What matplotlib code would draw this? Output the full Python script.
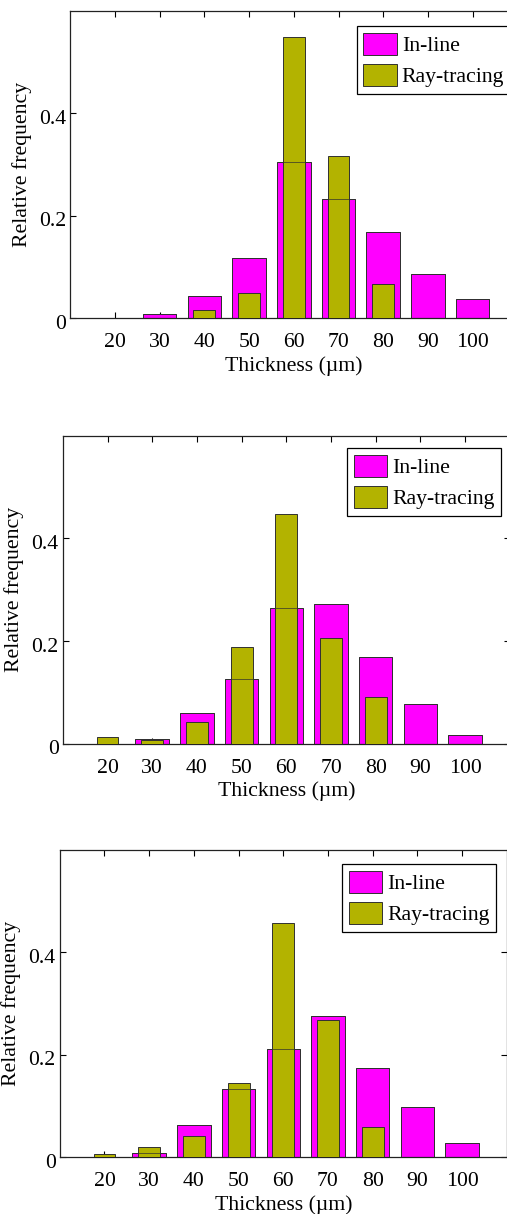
#!/usr/bin/env python3
"""Relative frequency of thickness: in-line vs ray-tracing, three panels."""

import matplotlib
matplotlib.use("Agg")
import matplotlib.pyplot as plt
from matplotlib.transforms import ScaledTranslation

plt.rcParams["font.family"] = ["Liberation Serif", "DejaVu Serif"]
plt.rcParams["font.size"] = 15.7

thickness = [20, 30, 40, 50, 60, 70, 80, 90, 100]

inline_1 = [0, 0.008, 0.044, 0.117, 0.305, 0.233, 0.168, 0.087, 0.037]
ray_1 = [0, 0, 0.016, 0.050, 0.549, 0.316, 0.066, 0, 0]

inline_2 = [0, 0.009, 0.060, 0.127, 0.264, 0.273, 0.169, 0.077, 0.018]
ray_2 = [0.013, 0.008, 0.042, 0.188, 0.447, 0.206, 0.091, 0, 0]

inline_3 = [0, 0.009, 0.064, 0.134, 0.211, 0.276, 0.174, 0.099, 0.027]
ray_3 = [0.006, 0.020, 0.042, 0.145, 0.457, 0.268, 0.060, 0, 0]

series_labels = ["In-line", "Ray-tracing"]

INLINE_COLOR = "#ff00ff"
RAY_COLOR = "#b3b300"
EDGE = "#303030"

W, H = 507, 1214
# (left, top, bottom) in pixels, plus legend anchor in axes fraction
panels = [
    (inline_1, ray_1, 70.3, 10.7, 318.3, (0.641, 0.950)),
    (inline_2, ray_2, 62.8, 435.7, 744.0, (0.636, 0.959)),
    (inline_3, ray_3, 59.8, 850.0, 1157.3, (0.632, 0.954)),
]
AX_W = 447

fig = plt.figure(figsize=(W / 100, H / 100), dpi=100)
shift_down = ScaledTranslation(0, -3.5 / 100, fig.dpi_scale_trans)

for inline, ray, left, top, bottom, anchor in panels:
    ax = fig.add_axes([left / W, 1 - bottom / H, AX_W / W, (bottom - top) / H])
    b1 = ax.bar(thickness, inline, width=7.5, color=INLINE_COLOR,
                edgecolor=EDGE, linewidth=0.7, zorder=2)
    b2 = ax.bar(thickness, ray, width=4.9, color=RAY_COLOR,
                edgecolor=EDGE, linewidth=0.7, zorder=3)
    # in-line outlines show through the ray-tracing bars
    ax.bar(thickness, inline, width=7.5, fill=False,
           edgecolor=EDGE, linewidth=0.7, alpha=0.7, zorder=4)

    ax.set_xlim(10, 110)
    ax.set_ylim(0, 0.6)
    ax.set_xticks(thickness)
    ax.set_yticks([0, 0.2, 0.4])
    ax.set_yticklabels(["0", "0.2", "0.4"])
    ax.tick_params(direction="in", top=True, right=True, length=4,
                   width=0.8, labelsize=15.7)
    ax.tick_params(axis="x", pad=10.5)
    ax.tick_params(axis="y", pad=3)
    for lbl in ax.get_yticklabels():
        lbl.set_transform(lbl.get_transform() + shift_down)
    for s in ax.spines.values():
        s.set_linewidth(0.9)
        s.set_color("#222222")

    ax.set_xlabel("Thickness (\u00b5m)", labelpad=3)
    ax.set_ylabel("Relative frequency", labelpad=5)

    leg = ax.legend([b1, b2], series_labels, loc="upper left",
                    bbox_to_anchor=anchor, borderaxespad=0, fancybox=False,
                    framealpha=1, edgecolor="black", handlelength=1.53,
                    handleheight=1.18, labelspacing=0.35, handletextpad=0.23,
                    borderpad=0.3, fontsize=15.7)
    leg.get_frame().set_linewidth(0.9)

fig.savefig("out.png", dpi=100)
